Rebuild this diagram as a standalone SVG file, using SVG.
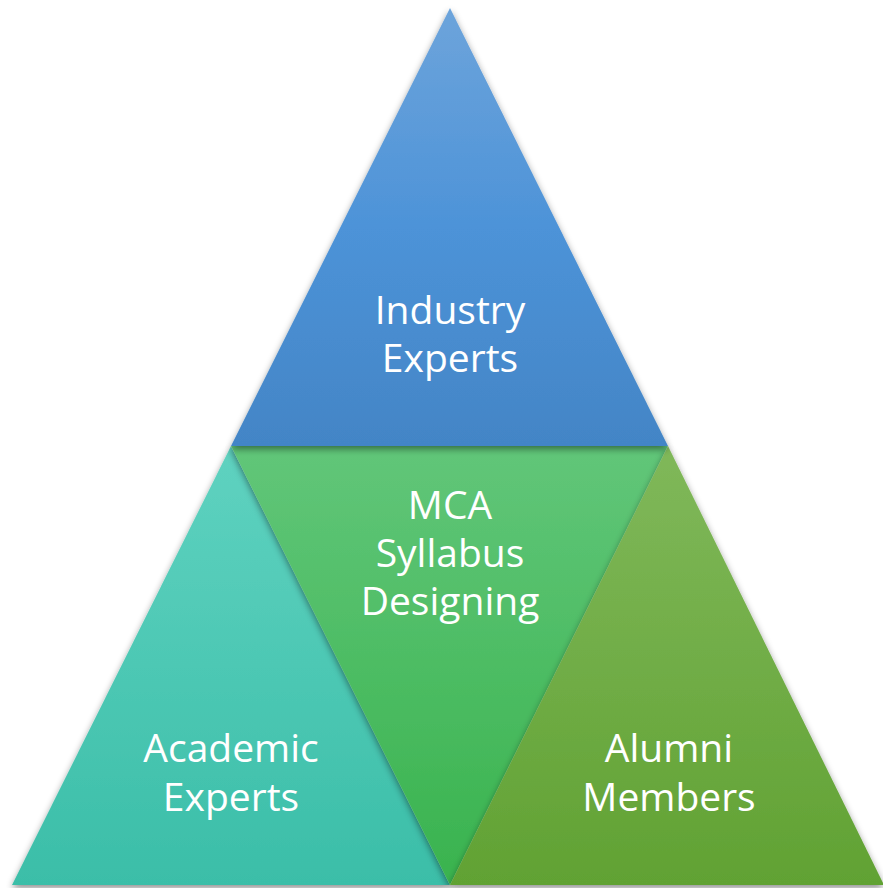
<svg xmlns="http://www.w3.org/2000/svg" width="883" height="888" viewBox="0 0 883 888">
  <defs>
    <filter id="sh" x="-10%" y="-10%" width="120%" height="120%">
      <feDropShadow dx="0" dy="3" stdDeviation="3.5" flood-color="#000" flood-opacity="0.45"/>
    </filter>
    <linearGradient id="gBlue" x1="0" y1="8" x2="0" y2="446" gradientUnits="userSpaceOnUse">
      <stop offset="0" stop-color="#6da4db"/>
      <stop offset="0.5" stop-color="#4d93d8"/>
      <stop offset="1" stop-color="#4385c6"/>
    </linearGradient>
    <linearGradient id="gTeal" x1="0" y1="446" x2="0" y2="885" gradientUnits="userSpaceOnUse">
      <stop offset="0" stop-color="#5fd2c0"/>
      <stop offset="1" stop-color="#3bbea8"/>
    </linearGradient>
    <linearGradient id="gGreen" x1="0" y1="446" x2="0" y2="885" gradientUnits="userSpaceOnUse">
      <stop offset="0" stop-color="#61c679"/>
      <stop offset="1" stop-color="#39b34e"/>
    </linearGradient>
    <linearGradient id="gOlive" x1="0" y1="446" x2="0" y2="885" gradientUnits="userSpaceOnUse">
      <stop offset="0" stop-color="#80b85a"/>
      <stop offset="1" stop-color="#61a233"/>
    </linearGradient>
  </defs>
  <style>
    .lbl { font-family: "Open Sans", "Liberation Sans", sans-serif; font-size: 39px; fill: #ffffff; text-anchor: middle; }
    .tri { filter: url(#sh); }
  </style>
  <rect width="883" height="888" fill="#ffffff"/>
  <g id="academic">
    <polygon class="tri" points="231,446 450,885 12,885" fill="url(#gTeal)"/>
    <text class="lbl" x="231" y="762">Academic</text>
    <text class="lbl" x="231" y="811">Experts</text>
  </g>
  <g id="mca">
    <polygon class="tri" points="231,446 668,446 450,885" fill="url(#gGreen)"/>
    <text class="lbl" x="450" y="519">MCA</text>
    <text class="lbl" x="450" y="567">Syllabus</text>
    <text class="lbl" x="450" y="615">Designing</text>
  </g>
  <g id="alumni">
    <polygon class="tri" points="668,446 884,885 450,885" fill="url(#gOlive)"/>
    <text class="lbl" x="669" y="762">Alumni</text>
    <text class="lbl" x="669" y="811">Members</text>
  </g>
  <g id="industry">
    <polygon class="tri" points="450,8 668,446 231,446" fill="url(#gBlue)"/>
    <text class="lbl" x="450" y="324">Industry</text>
    <text class="lbl" x="450" y="372">Experts</text>
  </g>
  <g id="connectors"></g>
</svg>
